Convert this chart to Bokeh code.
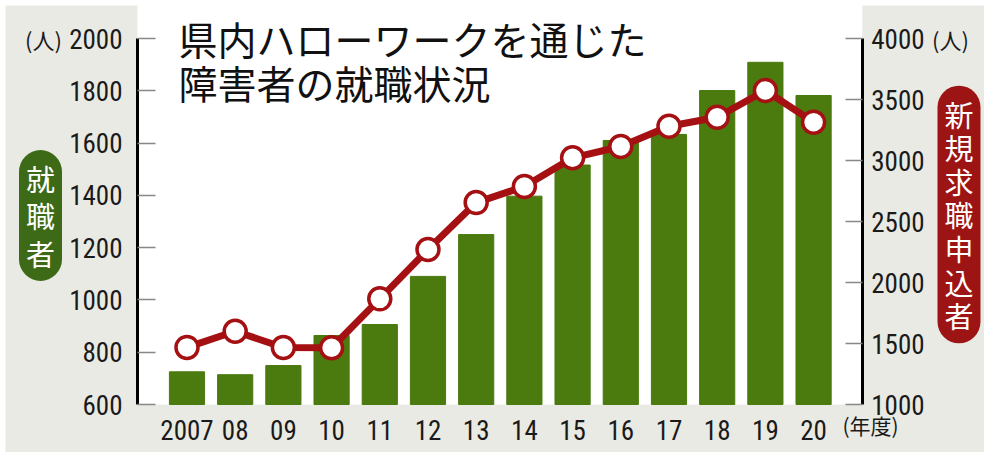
from bokeh.plotting import figure
from bokeh.models import Range1d, LinearAxis, Label, FixedTicker, BoxAnnotation
from bokeh.embed import file_html
from bokeh.resources import INLINE

# ---- data ----
years = ["2007", "08", "09", "10", "11", "12", "13", "14", "15", "16", "17", "18", "19", "20"]
employed = [725, 714, 749, 864, 906, 1090, 1250, 1397, 1516, 1610, 1633, 1801, 1909, 1782]
applicants = [1468, 1600, 1467, 1465, 1866, 2270, 2655, 2787, 3022, 3115, 3281, 3355, 3574, 3314]
left_ticks = [600, 800, 1000, 1200, 1400, 1600, 1800, 2000]
right_ticks = [1000, 1500, 2000, 2500, 3000, 3500, 4000]

title_line1 = "県内ハローワークを通じた"
title_line2 = "障害者の就職状況"
left_tag = "就職者"
right_tag = "新規求職申込者"

xs = list(range(len(years)))

GRAY = "#eaeae5"
GREEN = "#4b7a0f"
RED = "#a51013"
NUM_FONT = "Roboto Condensed, DejaVu Sans Condensed, Roboto"
JP_FONT = "Noto Sans CJK JP"
LBL_SIZE = "27px"

# plot-area extents (data units)
X0, X1 = -1.027, 14.01

p = figure(width=984, height=452, output_backend="svg", toolbar_location=None,
           x_range=Range1d(-3.869, 16.546), y_range=Range1d(416.4, 2145.4),
           min_border=0)
p.border_fill_color = "white"
p.background_fill_color = "white"
p.outline_line_color = None
p.grid.visible = False
p.extra_y_ranges = {"right": Range1d(606.6, 4311.5)}

# gray panel and white plotting area
p.add_layout(BoxAnnotation(left=5, top=447, left_units="screen", top_units="screen",
                           fill_color=GRAY, fill_alpha=1.0, line_color=None, level="underlay"))
p.add_layout(BoxAnnotation(left=X0, right=X1, bottom=600, fill_color="white",
                           fill_alpha=1.0, line_color=None, level="underlay"))

# bars
p.vbar(x=xs, top=employed, bottom=600, width=0.73, color=GREEN)
# line
p.line(x=xs, y=applicants, y_range_name="right", line_color=RED, line_width=7)
p.scatter(x=xs, y=applicants, y_range_name="right", size=22, fill_color="white",
          line_color=RED, line_width=3.5)

# x axis
xa = p.xaxis[0]
xa.fixed_location = 600
xa.ticker = FixedTicker(ticks=xs)
xa.major_label_overrides = {i: y for i, y in enumerate(years)}
xa.axis_line_color = None
xa.major_tick_line_color = None
xa.minor_tick_line_color = None
xa.major_label_standoff = 9
xa.major_label_text_font = NUM_FONT
xa.major_label_text_font_size = LBL_SIZE
xa.major_label_text_color = "#1a1a1a"

# left y axis
ya = p.yaxis[0]
ya.fixed_location = X0
ya.ticker = FixedTicker(ticks=left_ticks)
ya.bounds = (600, 2000)
ya.axis_line_color = "black"
ya.axis_line_width = 3
ya.major_tick_in = 18
ya.major_tick_out = 0
ya.major_tick_line_color = "#888888"
ya.major_tick_line_width = 1.5
ya.minor_tick_line_color = None
ya.major_label_standoff = 15
ya.major_label_text_font = NUM_FONT
ya.major_label_text_font_size = LBL_SIZE
ya.major_label_text_color = "#1a1a1a"

# right y axis
ra = LinearAxis(y_range_name="right", ticker=FixedTicker(ticks=right_ticks))
ra.fixed_location = X1
ra.bounds = (1000, 4000)
ra.axis_line_color = "black"
ra.axis_line_width = 3
ra.major_tick_in = 17
ra.major_tick_out = 0
ra.major_tick_line_color = "#888888"
ra.major_tick_line_width = 1.5
ra.minor_tick_line_color = None
ra.major_label_standoff = 9
ra.major_label_text_font = NUM_FONT
ra.major_label_text_font_size = LBL_SIZE
ra.major_label_text_color = "#1a1a1a"
p.add_layout(ra, "right")

def lab(text, x, y, size, color="#1a1a1a", align="center", **kw):
    p.add_layout(Label(x=x, y=y, x_units="screen", y_units="screen", text=text,
                       text_font=JP_FONT, text_font_size=size, text_color=color,
                       text_baseline="middle", text_align=align, **kw))

# title
lab(title_line1, 178, 414.5, "39px", "#111111", "left")
lab(title_line2, 178, 371, "39px", "#111111", "left")

# unit labels
lab("(人)", 43, 414, "22px")
lab("(人)", 950, 414, "22px")
lab("(年度)", 870, 28, "21px")

# series tags (pills)
lab("\n".join(left_tag), 40, 237, "29px", "white", text_line_height=0.89,
    background_fill_color="#3c6a16", padding=7, border_radius=22)
lab("\n".join(right_tag), 958.5, 238, "29px", "white", text_line_height=0.80,
    background_fill_color="#9c1414", padding=7, border_radius=22)

open("out.html", "w").write(file_html(p, INLINE))
